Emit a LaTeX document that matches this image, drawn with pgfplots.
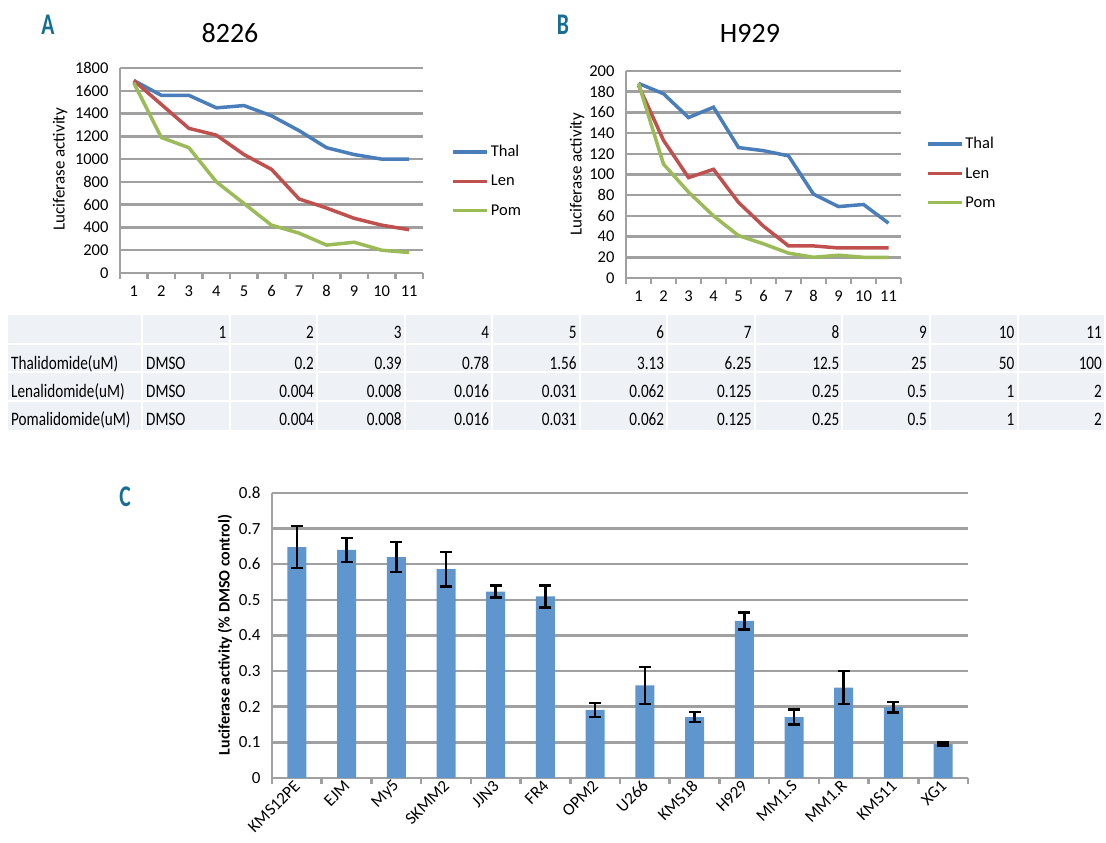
\documentclass[border=0pt]{standalone}
\usepackage{fontspec}
\setmainfont{Carlito}
\usepackage{pgfplots}
\pgfplotsset{compat=1.18}

\definecolor{thal}{RGB}{74,126,187}
\definecolor{len}{RGB}{192,80,77}
\definecolor{pom}{RGB}{155,187,89}
\definecolor{barc}{RGB}{95,150,205}
\definecolor{gridc}{RGB}{160,160,160}
\definecolor{cellbg}{RGB}{238,242,247}
\definecolor{panel}{RGB}{22,110,150}

\pgfplotsset{
  excel/.style={
    scale only axis, anchor=south west, clip=false,
    axis x line*=bottom, axis y line*=left,
    axis line style={draw=gridc, line width=2.5pt},
    ymajorgrids, major grid style={draw=gridc, line width=2.5pt},
    major tick length=0pt, minor tick length=6pt, tick align=outside,
    minor tick style={draw=gridc, line width=2.5pt},
    tick label style={font=\fontsize{16.5}{18}\selectfont},
    yticklabel style={xshift=-8pt},
    /pgf/number format/assume math mode=true,
    /pgf/number format/1000 sep={},
  },
  lines/.style={
    excel, xmin=0.5, xmax=11.5, xtick={1,...,11},
    minor xtick={0.5,1.5,...,11.5},
    xticklabel style={yshift=-9pt},
    ylabel={Luciferase activity},
    ylabel style={font=\fontsize{17}{19}\selectfont, anchor=center},
    legend cell align=left,
    legend style={draw=none, fill=none, anchor=west, inner sep=0pt,
      font=\fontsize{16.5}{18}\selectfont, row sep=13pt},
    legend image code/.code={\draw[#1] (0pt,0pt) -- (34pt,0pt);},
  },
}

\begin{document}
\begin{tikzpicture}[x=1pt,y=1pt]
\path[use as bounding box] (0pt,0pt) rectangle (1106pt,843pt);

% panel letters and titles
\node[font=\bfseries\fontsize{30}{32}\selectfont, text=panel, xscale=0.72] at (48pt,818pt) {A};
\node[font=\bfseries\fontsize{30}{32}\selectfont, text=panel, xscale=0.72] at (563pt,818pt) {B};
\node[font=\bfseries\fontsize{30}{32}\selectfont, text=panel, xscale=0.72] at (125pt,346pt) {C};
\node[font=\fontsize{28}{30}\selectfont] at (230pt,810pt) {8226};
\node[font=\fontsize{28}{30}\selectfont] at (750pt,810pt) {H929};

% panel A
\begin{axis}[lines, at={(120pt,570pt)}, width=303pt, height=205pt,
  ymin=0, ymax=1800, ytick={0,200,...,1800},
  ylabel style={at={(axis description cs:-0.198,0.507)}},
  legend style={at={(axis description cs:1.093,0.449)}}]
\addplot[thal, line width=3.5pt] coordinates {(1,1690)(2,1560)(3,1560)(4,1450)(5,1470)(6,1380)(7,1250)(8,1100)(9,1040)(10,1000)(11,1000)};
\addplot[len, line width=3.5pt] coordinates {(1,1690)(2,1480)(3,1270)(4,1210)(5,1040)(6,910)(7,650)(8,570)(9,480)(10,420)(11,380)};
\addplot[pom, line width=3.5pt] coordinates {(1,1670)(2,1190)(3,1100)(4,800)(5,610)(6,420)(7,350)(8,245)(9,270)(10,200)(11,180)};
\legend{Thal,Len,Pom}
\end{axis}

% panel B
\begin{axis}[lines, at={(626pt,565pt)}, width=275pt, height=207pt,
  ymin=0, ymax=200, ytick={0,20,...,200},
  ylabel style={at={(axis description cs:-0.178,0.502)}},
  legend style={at={(axis description cs:1.09,0.507)}}]
\addplot[thal, line width=3.5pt] coordinates {(1,188)(2,178)(3,155)(4,165)(5,126)(6,123)(7,118)(8,81)(9,69)(10,71)(11,53)};
\addplot[len, line width=3.5pt] coordinates {(1,186)(2,133)(3,97)(4,105)(5,73)(6,50)(7,31)(8,31)(9,29)(10,29)(11,29)};
\addplot[pom, line width=3.5pt] coordinates {(1,188)(2,110)(3,83)(4,60)(5,41)(6,33)(7,24)(8,20)(9,22)(10,20)(11,20)};
\legend{Thal,Len,Pom}
\end{axis}

% table of concentrations
\foreach \t/\b in {315/343,345/371,373/400,402/430}{
  \fill[cellbg] (8,843-\b) rectangle (141,843-\t);
  \foreach \k in {0,...,10}{
    \fill[cellbg] ({143+\k*87.55}, 843-\b) rectangle ({143+(\k+1)*87.55-2}, 843-\t);
  }
}
\begin{scope}[every node/.style={font=\fontsize{19}{21}\selectfont, inner sep=0pt, xscale=0.8}]
\foreach \v [count=\k] in {1,2,3,4,5,6,7,8,9,10,11}
  \node[anchor=base east] at ({143+\k*87.55-4}, 843-339) {\v};
\foreach \name/\y in {Thalidomide(uM)/370, Lenalidomide(uM)/398, Pomalidomide(uM)/426}{
  \node[anchor=base west] at (11, 843-\y) {\name};
  \node[anchor=base west] at (146, 843-\y) {DMSO};
}
\foreach \v [count=\k] in {0.2,0.39,0.78,1.56,3.13,6.25,12.5,25,50,100}
  \node[anchor=base east] at ({143+(\k+1)*87.55-4}, 843-370) {\v};
\foreach \v [count=\k] in {0.004,0.008,0.016,0.031,0.062,0.125,0.25,0.5,1,2}{
  \node[anchor=base east] at ({143+(\k+1)*87.55-4}, 843-398) {\v};
  \node[anchor=base east] at ({143+(\k+1)*87.55-4}, 843-426) {\v};
}
\end{scope}

% panel C
\begin{axis}[excel, ybar, bar width=19pt, at={(272pt,65pt)}, width=696pt, height=285pt,
  xmin=-0.5, xmax=13.5, ymin=0, ymax=0.8, ytick={0,0.1,...,0.8},
  xtick={0,...,13}, minor xtick={-0.5,0.5,...,13.5},
  xticklabels={KMS12PE,EJM,My5,SKMM2,JJN3,FR4,OPM2,U266,KMS18,H929,MM1.S,MM1.R,KMS11,XG1},
  tick label style={font=\fontsize{17}{19}\selectfont},
  xticklabel style={rotate=45, anchor=east, yshift=-4pt},
  ylabel={Luciferase activity (\% DMSO control)},
  ylabel style={font=\bfseries\fontsize{16}{18}\selectfont, anchor=center,
    at={(axis description cs:-0.0675,0.502)}}]
\addplot[fill=barc, draw=none,
  error bars/.cd, y dir=both, y explicit,
  error bar style={line width=2.5pt, black},
  error mark options={rotate=90, mark size=6pt, line width=2.5pt, black}]
coordinates {
  (0,0.648) +- (0,0.059)
  (1,0.640) +- (0,0.034)
  (2,0.620) +- (0,0.042)
  (3,0.586) +- (0,0.049)
  (4,0.523) +- (0,0.017)
  (5,0.510) +- (0,0.031)
  (6,0.191) +- (0,0.020)
  (7,0.260) +- (0,0.052)
  (8,0.171) +- (0,0.014)
  (9,0.441) +- (0,0.024)
  (10,0.171) +- (0,0.021)
  (11,0.254) +- (0,0.046)
  (12,0.199) +- (0,0.015)
  (13,0.095) +- (0,0.004)
};
\end{axis}
\end{tikzpicture}
\end{document}
